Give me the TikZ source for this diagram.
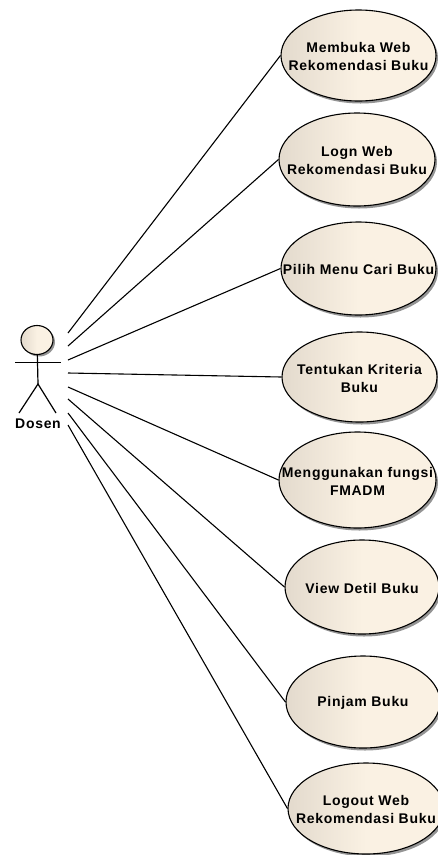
\documentclass[tikz,border=0pt]{standalone}
\usepackage{fontspec}
\setmainfont{Liberation Sans}[LetterSpace=5]
\usepackage{xcolor}
\usepackage{tikz}
\usetikzlibrary{shadows}
\usetikzlibrary{shapes.geometric}
\definecolor{caseleft}{HTML}{E3DACD}
\definecolor{casefill}{HTML}{FAF1E3}
\tikzstyle{usecase}=[ellipse,draw=black,line width=1.1pt,inner sep=0pt,left color=caseleft,right color=casefill,middle color=casefill,drop shadow={shadow xshift=2pt,shadow yshift=-2.5pt,fill=black!60,opacity=.7}]
\tikzstyle{casetext}=[font=\fontsize{14}{18}\selectfont\bfseries,align=center,inner sep=0pt,text=black,yshift=-1pt]
\tikzstyle{assoc} = [draw,line width=1.1pt]
\tikzstyle{stick} = [draw,line width=1.2pt]

\begin{document}
\begin{tikzpicture}[x=1pt,y=-1pt]
    \useasboundingbox (0,0) rectangle (438,855);
    % First we draw the use cases
    \foreach \pos/\name/\caseW/\caseH/\lbl in {{(358.5,55.5)/membuka/155/91/{Membuka Web\\Rekomendasi Buku}},
    {(357,159.5)/login/156/93/{Logn Web\\Rekomendasi Buku}},
    {(358.5,268.5)/pilih/155/93/{Pilih Menu Cari Buku}},
    {(359.5,377)/kriteria/155/90/{Tentukan Kriteria\\Buku}},
    {(357.5,480)/fmadm/157/96/{Menggunakan fungsi\\FMADM}},
    {(362,587)/detil/154/94/{View Detil Buku}},
    {(363,702)/pinjam/154/92/{Pinjam Buku}},
    {(366,808.5)/logout/156/91/{Logout Web\\Rekomendasi Buku}}}
        \node[usecase,minimum width=\caseW pt,minimum height=\caseH pt,label={[casetext]center:{\lbl}}] (\name) at \pos {};

    % Then the actor
    \node[ellipse,draw=black,line width=1.1pt,inner sep=0pt,minimum width=32pt,minimum height=29pt,left color=caseleft,right color=casefill,middle color=casefill,drop shadow={shadow xshift=2pt,shadow yshift=-2pt,fill=black!60,opacity=.7}] (head) at (37,340) {};
    \coordinate (armL) at (15,362);
    \coordinate (armR) at (61,362);
    \coordinate (hip) at (38,384);
    \coordinate (footL) at (19,413);
    \coordinate (footR) at (56,413);
    \path[stick] (head) -- (hip);
    \path[draw,line width=0.7pt] (armL) -- (armR);
    \path[stick] (footL) -- (hip) -- (footR);
    \node[casetext] (dosen) at (38,423) {Dosen};

    % Connect the actor with the use cases
    \foreach \y/\dest in {333/membuka,346/login,360/pilih,373/kriteria,387/fmadm,399/detil,413/pinjam,425/logout}{
        \coordinate (from\dest) at (68,\y);
        \path[assoc] (from\dest) -- (\dest.west);
    }
\end{tikzpicture}
\end{document}
